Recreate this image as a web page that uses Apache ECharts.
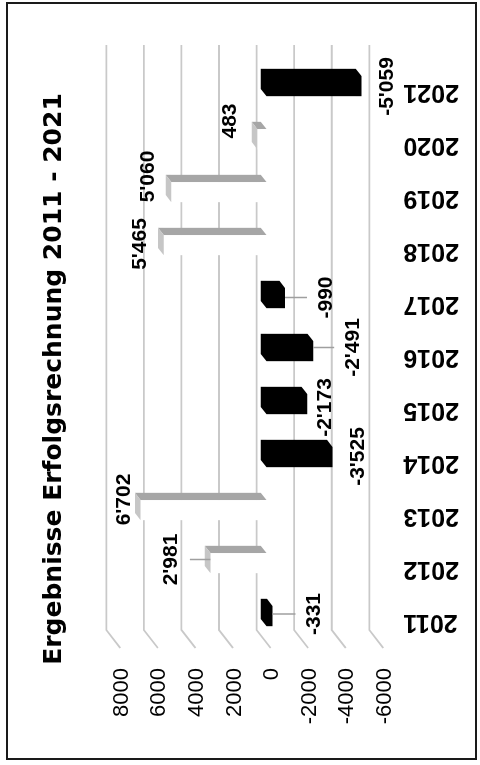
<!DOCTYPE html>
<html><head><meta charset="utf-8">
<script src="https://cdn.jsdelivr.net/npm/echarts@6/dist/echarts.min.js"></script>
<style>
html,body{margin:0;padding:0;width:480px;height:765px;overflow:hidden;background:#fff;}
#chart{position:absolute;left:0;top:0;width:765px;height:480px;transform-origin:0 0;transform:translate(0,765px) rotate(-90deg);}
</style></head><body><div id="chart"></div>
<script>
// ---- data ----
const years = ['2011','2012','2013','2014','2015','2016','2017','2018','2019','2020','2021'];
const results = [-331, 2981, 6702, -3525, -2173, -2491, -990, 5465, 5060, 483, -5059];
const valueTicks = [-6000, -4000, -2000, 0, 2000, 4000, 6000, 8000];
const titleText = 'Ergebnisse Erfolgsrechnung 2011 - 2021';

// ---- layout / style (manually placed data labels, as in the original) ----
const labelNudge = [[42,1.5],[-39.5,0],[-16.5,-7],[26,3],[18,7],[40,0],[41,3],[-24,2.5],[-23,-12],[-27,-14.5],[26,4]];
const leaderLines = [true,true,false,false,false,true,true,false,false,false,false];
const DEPTH_U = 18, DEPTH_V = 14;     // pseudo-3D depth vector
const D_BACK = 0.3, D_FRONT = 0.7;    // bar depth extent
const POS_SIDE = '#a6a6a6', POS_CAP = '#c6c6c6', NEG_FILL = '#000000';

function fmt(v){
  const s = Math.abs(v).toString().replace(/\B(?=(\d{3})+(?!\d))/g, "'");
  return (v < 0 ? '-' : '') + s;
}
function hull(p){
  p = p.slice().sort((a,b)=>a[0]-b[0]||a[1]-b[1]);
  const cr=(o,a,b)=>(a[0]-o[0])*(b[1]-o[1])-(a[1]-o[1])*(b[0]-o[0]);
  const lo=[],up=[];
  for(const q of p){while(lo.length>=2&&cr(lo[lo.length-2],lo[lo.length-1],q)<=0)lo.pop();lo.push(q);}
  for(let i=p.length-1;i>=0;i--){const q=p[i];while(up.length>=2&&cr(up[up.length-2],up[up.length-1],q)<=0)up.pop();up.push(q);}
  up.pop();lo.pop();return lo.concat(up);
}

function renderGrid(params, api){
  const cs = params.coordSys;
  const v = api.coord([0, api.value(1)])[1];
  const uL = cs.x + DEPTH_U, uR = cs.x + cs.width + DEPTH_U + 2;
  return {type:'polyline', shape:{points:[[uR, v],[uL, v],[cs.x, v + DEPTH_V]]},
          style:{stroke:'#c9c9c9', lineWidth:1.8, fill:null}};
}

function renderBar(params, api){
  const i = api.value(0), val = api.value(1);
  const base = api.coord([i, 0]), end = api.coord([i, val]);
  const u = base[0], v0 = base[1], vv = end[1];
  const hw = api.size([1,0])[0] * 0.19;
  const P = (du, v, d) => [u + DEPTH_U*(1-d) + du, v + DEPTH_V*d];
  const bB = [P(-hw,v0,D_BACK), P(hw,v0,D_BACK), P(hw,vv,D_BACK), P(-hw,vv,D_BACK)];
  const fB = [P(-hw,v0,D_FRONT), P(hw,v0,D_FRONT), P(hw,vv,D_FRONT), P(-hw,vv,D_FRONT)];
  const children = [];
  if (val < 0) {
    children.push({type:'polygon', shape:{points:hull(bB.concat(fB))}, style:{fill:NEG_FILL}});
  } else {
    children.push({type:'polygon', shape:{points:fB}, style:{fill:'#ffffff'}});
    children.push({type:'polygon', shape:{points:[bB[1], bB[2], fB[2], fB[1]]}, style:{fill:POS_SIDE}});
    children.push({type:'polygon', shape:{points:[bB[3], bB[2], fB[2], fB[3]]}, style:{fill:POS_CAP}});
  }
  const nd = labelNudge[i];
  const vEnd = vv + DEPTH_V*D_FRONT;
  const uLab = u + DEPTH_U*0.5 - nd[1];
  const vLab = vEnd + nd[0];
  if (leaderLines[i]) {
    const s = Math.sign(nd[0]);
    children.push({type:'line', shape:{x1:uLab, y1:vEnd, x2:uLab, y2:vLab - s*19},
      style:{stroke:'#9f9f9f', lineWidth:1.5}});
  }
  children.push({type:'text', x:uLab, y:vLab, style:{text:fmt(val), font:'bold 21px "Liberation Sans"',
    fill:'#000', align:'center', verticalAlign:'middle', textAlign:'center', textVerticalAlign:'middle'}});
  return {type:'group', children};
}

const chart = echarts.init(document.getElementById('chart'), null, {renderer:'canvas', width:765, height:480});
chart.setOption({
  animation:false,
  backgroundColor:'#ffffff',
  graphic:[
    {type:'rect', shape:{x:6, y:7, width:756, height:469}, style:{fill:null, stroke:'#1a1a1a', lineWidth:2}, z:0},
    {type:'text', x:386, y:54, style:{text:titleText, font:'bold 25px "DejaVu Sans"', fill:'#000',
      align:'center', verticalAlign:'middle', textAlign:'center', textVerticalAlign:'middle'}}
  ],
  grid:{left:117, right:65, top:106.3, bottom:110.7},
  xAxis:{type:'category', data:years, axisLine:{show:false}, axisTick:{show:false}, splitLine:{show:false},
    axisLabel:{rotate:90, margin:34, fontWeight:'bold', fontSize:25, fontFamily:'Liberation Sans', color:'#000', interval:0}},
  yAxis:{type:'value', min:-6000, max:8000, interval:2000, axisLine:{show:false}, axisTick:{show:false}, splitLine:{show:false},
    axisLabel:{formatter:v=>String(v), margin:20, fontSize:22, fontFamily:'Liberation Sans', color:'#000',
      verticalAlign:'top', lineHeight:31}},
  series:[
    {type:'custom', renderItem:renderGrid, data:valueTicks.map(t=>[0,t]), clip:false, z:1, silent:true},
    {type:'custom', renderItem:renderBar, data:results.map((v,i)=>[i,v]), clip:false, z:2, silent:true}
  ]
});
</script></body></html>
